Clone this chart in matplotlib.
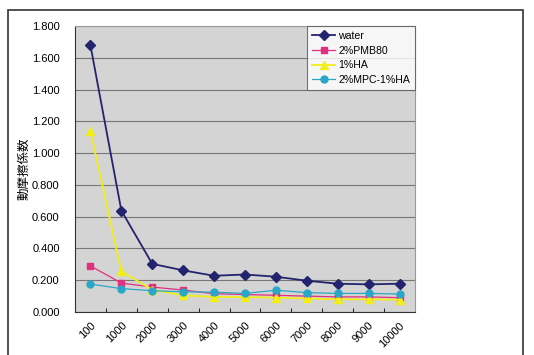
import numpy as np
import matplotlib.pyplot as plt
from matplotlib.patches import Rectangle

plt.rcParams['font.family'] = ['Liberation Sans', 'Noto Sans CJK JP', 'DejaVu Sans']

categories = ['100', '1000', '2000', '3000', '4000', '5000', '6000', '7000', '8000', '9000', '10000']
water = [1.678, 0.638, 0.303, 0.262, 0.228, 0.236, 0.222, 0.197, 0.178, 0.174, 0.178]
pmb80 = [0.290, 0.182, 0.157, 0.138, 0.115, 0.110, 0.105, 0.100, 0.095, 0.095, 0.090]
ha = [1.138, 0.255, 0.140, 0.105, 0.095, 0.095, 0.090, 0.085, 0.080, 0.080, 0.077]
mpc_ha = [0.176, 0.147, 0.134, 0.127, 0.125, 0.117, 0.137, 0.122, 0.117, 0.117, 0.113]

fig = plt.figure(figsize=(5.34, 3.55), dpi=100)
fig.patches.append(Rectangle((8/534, -0.1), 515/534, 1 - 10/355 + 0.1, transform=fig.transFigure,
                             fill=False, edgecolor='#333333', linewidth=1.2))
ax = fig.add_axes([75/534, 1 - 312/355, 340/534, 286/355])
ax.set_facecolor('#d4d4d4')

x = np.arange(len(categories))
ax.plot(x, water, '-D', color='#23236e', markersize=5, linewidth=1.3, label='water')
ax.plot(x, pmb80, '-s', color='#e0307f', markersize=5, linewidth=0.9, label='2%PMB80')
ax.plot(x, ha, '-^', color='#f2ee1a', markersize=6, linewidth=1.3, label='1%HA')
ax.plot(x, mpc_ha, '-o', color='#2aa7c6', markersize=5, linewidth=0.9, label='2%MPC-1%HA')

ax.set_xlim(-0.5, 10.5)
ax.set_ylim(0, 1.8)
ax.set_yticks(np.arange(0, 1.81, 0.2))
ax.set_yticklabels(['%.3f' % v for v in np.arange(0, 1.81, 0.2)], fontsize=8)
ax.yaxis.grid(True, color='#777777', linewidth=0.8)
ax.set_axisbelow(True)
ax.set_xticks(x)
ax.set_xticklabels(categories, rotation=45, ha='right', rotation_mode='anchor', fontsize=8)
ax.tick_params(axis='x', length=0, pad=6)
ax.set_xticks(np.arange(0.5, 10.5, 1), minor=True)
ax.tick_params(axis='x', which='minor', direction='in', length=3)
ax.tick_params(axis='y', length=0, pad=11)
for s in ['top', 'right']:
    ax.spines[s].set_color('#999999')
for s in ['left', 'bottom']:
    ax.spines[s].set_color('#333333')

ax.set_ylabel('動摩擦係数', fontsize=9, family=['Noto Sans CJK JP'], labelpad=1)

leg = ax.legend(loc='upper right', fontsize=7.6, frameon=True, fancybox=False,
                borderaxespad=0, handlelength=2.2, handletextpad=0.3,
                labelspacing=0.45, borderpad=0.45)
leg.get_frame().set_edgecolor('#555555')
leg.get_frame().set_facecolor('white')
leg.get_frame().set_linewidth(0.8)

plt.savefig('out.png', dpi=100)
